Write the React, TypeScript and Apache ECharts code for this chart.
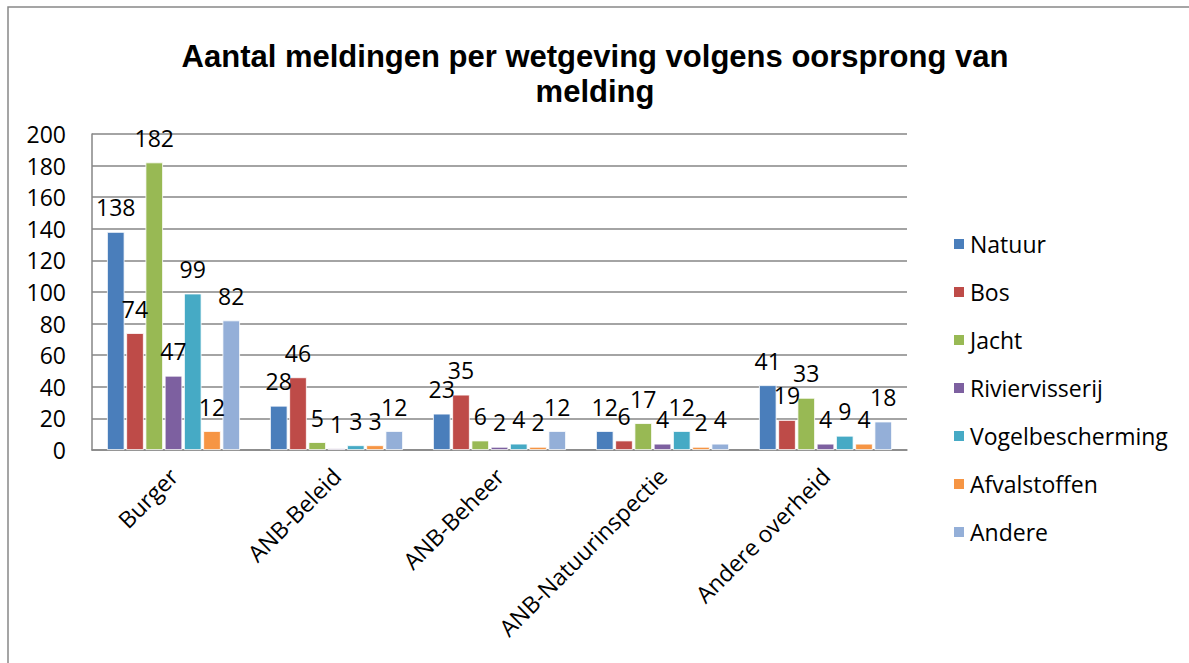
import React, { useEffect, useRef } from "react";
import * as echarts from "echarts";

const categories = ["Burger", "ANB-Beleid", "ANB-Beheer", "ANB-Natuurinspectie", "Andere overheid"];
const seriesNames = ["Natuur", "Bos", "Jacht", "Riviervisserij", "Vogelbescherming", "Afvalstoffen", "Andere"];
const natuur = [138, 28, 23, 12, 41];
const bos = [74, 46, 35, 6, 19];
const jacht = [182, 5, 6, 17, 33];
const riviervisserij = [47, 1, 2, 4, 4];
const vogelbescherming = [99, 3, 4, 12, 9];
const afvalstoffen = [12, 3, 2, 2, 4];
const andere = [82, 12, 12, 4, 18];
const seriesValues = [natuur, bos, jacht, riviervisserij, vogelbescherming, afvalstoffen, andere];
const colors = ["#4A7EBB", "#BE4B48", "#98B954", "#7D60A0", "#46AAC5", "#F69544", "#94AFD8"];
const yTicks = { min: 0, max: 200, interval: 20 };
const titleText = "Aantal meldingen per wetgeving volgens oorsprong van\nmelding";

const FONT = "'Open Sans', 'Noto Sans', sans-serif";
const FS = 23;

export default function App() {
  const ref = useRef<HTMLDivElement>(null);
  useEffect(() => {
    if (!ref.current) return;
    const chart = echarts.init(ref.current, undefined, { renderer: "svg" });
    chart.setOption({
      animation: false,
      backgroundColor: "#ffffff",
      graphic: [
        {
          type: "rect",
          shape: { x: 8, y: 7, width: 1300, height: 800 },
          style: { fill: "none", stroke: "#888888", lineWidth: 1.5 },
          silent: true,
          z: -10,
        },
      ],
      title: {
        text: titleText,
        left: 590,
        top: 34,
        textAlign: "center",
        textStyle: {
          fontFamily: "'Liberation Sans', Arial, sans-serif",
          fontWeight: "bold",
          fontSize: 31,
          lineHeight: 35,
          color: "#000",
        },
      },
      legend: {
        orient: "vertical",
        left: 947,
        top: 226,
        icon: "rect",
        itemWidth: 12,
        itemHeight: 12,
        itemGap: 22,
        data: seriesNames,
        textStyle: { fontFamily: FONT, fontSize: FS, color: "#000", lineHeight: 26 },
      },
      grid: { left: 92, right: 282, top: 134, bottom: 213, containLabel: false },
      xAxis: {
        type: "category",
        data: categories,
        axisLine: { lineStyle: { color: "#868686", width: 1.5 } },
        axisTick: { show: false },
        axisLabel: {
          rotate: 45,
          margin: 22,
          interval: 0,
          fontFamily: FONT,
          fontSize: FS,
          color: "#000",
        },
      },
      yAxis: {
        type: "value",
        min: yTicks.min,
        max: yTicks.max,
        interval: yTicks.interval,
        axisLine: { show: true, lineStyle: { color: "#868686", width: 1.5 } },
        axisTick: { show: false },
        splitLine: { lineStyle: { color: "#868686", width: 1.5 } },
        axisLabel: { margin: 26, fontFamily: FONT, fontSize: FS, color: "#000" },
      },
      series: seriesNames.map((name, i) => ({
        name,
        type: "bar",
        data: seriesValues[i],
        barWidth: 17.5,
        barGap: "10%",
        itemStyle: { color: colors[i], borderColor: "#ffffff", borderWidth: 0.8 },
        label: {
          show: true,
          position: "top",
          distance: 13,
          fontFamily: FONT,
          fontSize: FS,
          color: "#000",
        },
      })),
    });
    return () => chart.dispose();
  }, []);
  return (
    <div
      ref={ref}
      style={{ position: "fixed", left: 0, top: 0, width: 1189, height: 663, background: "#fff" }}
    />
  );
}
